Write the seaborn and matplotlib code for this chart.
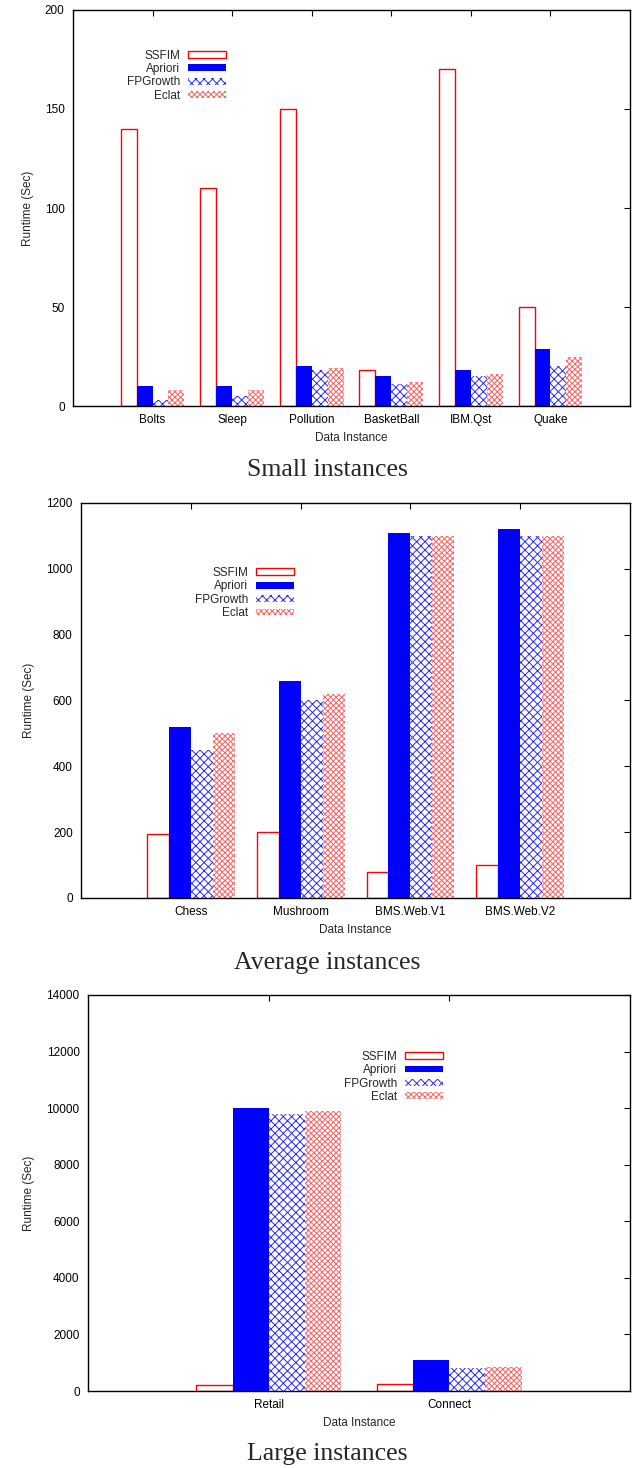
import pandas as pd
import matplotlib
matplotlib.use('Agg')
import matplotlib.pyplot as plt
import seaborn as sns

# data
algos = ['SSFIM', 'Apriori', 'FPGrowth', 'Eclat']

small_names = ['Bolts', 'Sleep', 'Pollution', 'BasketBall', 'IBM.Qst', 'Quake']
small_ssfim = [140, 110, 150, 18, 170, 50]
small_apriori = [10, 10, 20, 15, 18, 29]
small_fpgrowth = [3, 5, 18, 11, 15, 20]
small_eclat = [8, 8, 19, 12, 16, 25]

avg_names = ['Chess', 'Mushroom', 'BMS.Web.V1', 'BMS.Web.V2']
avg_ssfim = [195, 200, 80, 100]
avg_apriori = [520, 660, 1110, 1120]
avg_fpgrowth = [450, 600, 1100, 1100]
avg_eclat = [500, 620, 1100, 1100]

large_names = ['Retail', 'Connect']
large_ssfim = [200, 250]
large_apriori = [10000, 1100]
large_fpgrowth = [9800, 800]
large_eclat = [9900, 850]


def make_df(names, *series):
    rows = []
    for algo, vals in zip(algos, series):
        for n, v in zip(names, vals):
            rows.append({'Instance': n, 'Algo': algo, 'Runtime': v})
    return pd.DataFrame(rows)


sns.set_style('white')
plt.rcParams['font.family'] = ['Liberation Sans', 'DejaVu Sans']
plt.rcParams['hatch.linewidth'] = 0.7

fig = plt.figure(figsize=(6.39, 14.68), dpi=100)

panels = [
    (make_df(small_names, small_ssfim, small_apriori, small_fpgrowth, small_eclat),
     [0.1142, 0.7234, 0.8717, 0.2698], 200, 50, (-1, 6), (0.275, 0.90), 'Small instances', 0.680),
    (make_df(avg_names, avg_ssfim, avg_apriori, avg_fpgrowth, avg_eclat),
     [0.1268, 0.3883, 0.8592, 0.2691], 1200, 200, (-1, 4), (0.388, 0.838), 'Average instances', 0.344),
    (make_df(large_names, large_ssfim, large_apriori, large_fpgrowth, large_eclat),
     [0.1377, 0.05245, 0.8482, 0.2698], 14000, 2000, (-1, 2), (0.655, 0.859), 'Large instances', 0.0095),
]

styles = [
    dict(facecolor='white', edgecolor='red', hatch=None, lw=1.0),
    dict(facecolor='blue', edgecolor='blue', hatch=None, lw=0.0),
    dict(facecolor='white', edgecolor='#2b2bff', hatch='xxxx', lw=0.0),
    dict(facecolor='white', edgecolor='#ff6060', hatch='xxxxxx', lw=0.0),
]

for df, rect, ymax, ystep, xlim, leg_xy, title, ty in panels:
    ax = fig.add_axes(rect)
    sns.barplot(data=df, x='Instance', y='Runtime', hue='Algo', hue_order=algos,
                palette=['white', 'blue', 'white', 'white'], width=0.8, ax=ax, legend=False)
    for cont, st in zip(ax.containers, styles):
        for p in cont.patches:
            p.set_facecolor(st['facecolor'])
            p.set_edgecolor(st['edgecolor'])
            p.set_linewidth(st['lw'])
            if st['hatch']:
                p.set_hatch(st['hatch'])
    handles = [c.patches[0] for c in ax.containers]
    ax.legend(handles, algos, loc='upper right', bbox_to_anchor=leg_xy, frameon=False,
              markerfirst=False, fontsize=8.5, handlelength=3.2, handleheight=0.5,
              labelspacing=0.12, handletextpad=0.7, borderpad=0, borderaxespad=0)
    ax.set_xlim(*xlim)
    ax.set_ylim(0, ymax)
    ax.set_yticks(range(0, ymax + 1, ystep))
    ax.set_xlabel('Data Instance', fontsize=8.5, labelpad=4)
    ax.set_ylabel('Runtime (Sec)', fontsize=8.5, labelpad=8)
    ax.tick_params(axis='both', direction='in', length=4, width=0.8, labelsize=8.5,
                   top=True, right=True, pad=6, colors='black')
    for s in ax.spines.values():
        s.set_color('black')
        s.set_linewidth(1.0)
    fig.text(0.512, ty, title, ha='center', va='center', fontsize=18.5,
             family=['Liberation Serif', 'DejaVu Serif'])

fig.savefig('out.png', dpi=100)
